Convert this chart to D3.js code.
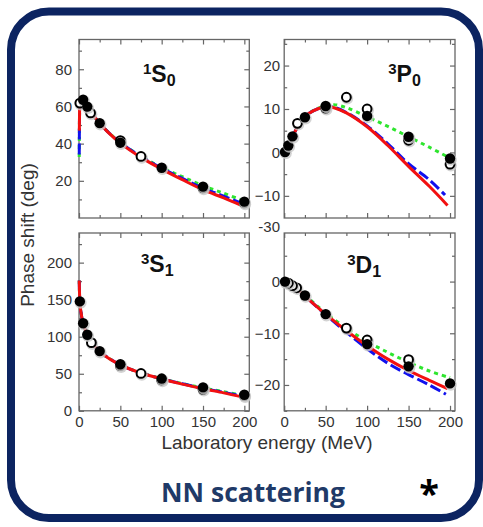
<!DOCTYPE html>
<html>
<head>
<meta charset="utf-8">
<script src="https://cdn.jsdelivr.net/npm/d3@7"></script>
<style>
  body { margin: 0; background: #fff; }
  svg text { font-family: "Liberation Sans", Arial, sans-serif; }
</style>
</head>
<body>
<div id="chart"></div>
<script>
/*
*   NN phase shifts, four partial waves
*   values: [energy MeV, phase shift deg]
*/

var energyTicks = [0, 50, 100, 150, 200];
var energyMinor = [25, 75, 125, 175];

// 1S0
var s0Ticks = [20, 40, 60, 80];
var s0Minor = [10, 30, 50, 70, 90];
var s0Filled = [[5,63.6],[10,59.9],[25,51.0],[50,40.5],[100,27.0],[150,16.9],[200,8.8]];
var s0Open = [[1,61.8],[14,56.5],[50,41.6],[75,33.1],[150,16.2],[200,8.1]];
var s0Green = [[0.25,32.8],[0.7,57],[1,61],[2,63],[4,63.6],[7,61.8],[10,59.8],[15,56.5],[25,51],[35,46.3],[50,40.6],[75,33.2],[100,27.2],[125,22.2],[150,17.4],[175,13.3],[195,10.0]];
var s0Blue = [[0.3,34.2],[0.7,57],[1,61],[2,63],[4,63.6],[7,61.8],[10,59.8],[15,56.5],[25,51],[35,46.3],[50,40.5],[75,33.0],[100,26.8],[125,21.3],[150,16.0],[175,11.8],[195,8.2]];
var s0Red = [[0.4,47],[0.7,57],[1,61],[2,63],[4,63.6],[7,61.8],[10,59.8],[15,56.5],[25,51],[35,46.2],[50,40.3],[75,32.6],[100,26.3],[125,20.6],[150,15.2],[175,10.8],[197,6.7]];

// 3P0
var p0Ticks = [-10, 0, 10, 20];
var p0Minor = [-5, 5, 15, 25];
var p0Filled = [[1,0.1],[5,1.6],[10,3.7],[25,8.1],[50,10.7],[100,8.4],[150,3.6],[200,-1.4]];
var p0Open = [[16,6.7],[50,10.2],[75,12.7],[100,10.0],[150,2.8],[200,-2.7]];
var p0Green = [[1,0.1],[5,1.5],[10,3.6],[15,5.5],[20,7],[25,8.2],[30,9],[40,10.1],[50,10.7],[60,11.0],[75,10.3],[100,8.2],[125,6.0],[150,3.6],[175,1.2],[200,-1.3]];
var p0Blue = [[1,0.1],[5,1.5],[10,3.6],[15,5.5],[20,7],[25,8.2],[30,9],[40,10],[50,10.5],[60,10.4],[75,9.2],[100,6.1],[125,2.0],[150,-2.6],[175,-6.3],[194,-9.8]];
var p0Red = [[1,0.1],[5,1.5],[10,3.6],[15,5.5],[20,7],[25,8.2],[30,9],[40,10],[50,10.5],[60,10.3],[75,9.1],[100,5.9],[125,1.6],[150,-3.2],[175,-7.8],[197,-12.2]];

// 3S1
var s1Ticks = [0, 50, 100, 150, 200];
var s1Minor = [25, 75, 125, 175, 225];
var s1Filled = [[1,147.7],[5,118.2],[10,102.6],[25,80.6],[50,62.8],[100,43.5],[150,31.6],[200,21.7]];
var s1Open = [[15,92.0],[50,61.0],[75,50.4],[100,41.5],[150,29.0],[200,20.5]];
var s1Green = [[0.3,176],[0.6,160],[1,150],[2,136],[5,118],[10,103],[15,93],[25,80],[50,62],[75,51.2],[100,43.4],[125,36.8],[150,30.8],[175,25.8],[195,21.6]];
var s1Blue = [[0.3,176],[0.6,160],[1,150],[2,136],[5,118],[10,103],[15,93],[25,80],[50,62],[75,51.1],[100,43.2],[125,36.4],[150,30.3],[175,25.0],[195,20.2]];
var s1Red = [[0.3,176],[0.6,160],[1,150],[2,136],[5,118],[10,103],[15,93],[25,80],[50,62],[75,51],[100,43],[125,36],[150,29.8],[175,24.2],[197,18.8]];

// 3D1
var d1Ticks = [-20, -10, 0];
var d1Minor = [-25, -15, -5, 5];
var d1Filled = [[1,0],[25,-2.7],[50,-6.3],[100,-12.1],[150,-16.4],[200,-19.7]];
var d1Open = [[5,-0.3],[10,-0.8],[15,-1.2],[75,-9.0],[100,-11.3],[150,-15.1]];
var d1Green = [[1,0],[5,-0.2],[10,-0.7],[15,-1.3],[25,-2.6],[50,-6.1],[75,-9.0],[100,-11.6],[125,-13.7],[150,-15.6],[175,-17.3],[200,-18.6]];
var d1Blue = [[1,0],[5,-0.2],[10,-0.7],[15,-1.3],[25,-2.8],[50,-6.4],[75,-9.8],[100,-13.0],[125,-15.8],[150,-18.0],[175,-20.0],[195,-21.8]];
var d1Red = [[1,0],[5,-0.2],[10,-0.7],[15,-1.3],[25,-2.8],[50,-6.3],[75,-9.5],[100,-12.4],[125,-15.0],[150,-17.2],[175,-19.1],[197,-20.7]];

var strayLabel = "-30";


// constructor function
PhasePanel = function(_parentElement, _cfg) {
    this.parentElement = _parentElement;
    this.cfg = _cfg;

    this.initVis();
}

PhasePanel.prototype.initVis = function() {
    var vis = this;
    var c = vis.cfg;

    vis.g = vis.parentElement.append('g')
        .attr('transform', 'translate(' + c.left + ' ' + c.top + ')');

    vis.x = d3.scaleLinear().domain([0, 206]).range([0, c.width]);
    vis.y = d3.scaleLinear().domain(c.yDomain).range([c.height, 0]);

    // ticks point inward on all four sides
    var axes = [
        d3.axisBottom(vis.x).tickValues(energyTicks).tickSize(-5),
        d3.axisBottom(vis.x).tickValues(energyMinor).tickSize(-3),
        d3.axisTop(vis.x).tickValues(energyTicks).tickSize(-5),
        d3.axisTop(vis.x).tickValues(energyMinor).tickSize(-3),
        d3.axisLeft(vis.y).tickValues(c.yTicks).tickSize(-5),
        d3.axisLeft(vis.y).tickValues(c.yMinor).tickSize(-3),
        d3.axisRight(vis.y).tickValues(c.yTicks).tickSize(-5),
        d3.axisRight(vis.y).tickValues(c.yMinor).tickSize(-3)
    ];
    var shifts = ['0 ' + c.height, '0 ' + c.height, '0 0', '0 0', '0 0', '0 0', c.width + ' 0', c.width + ' 0'];

    axes.forEach(function(ax, i) {
        var a = vis.g.append('g')
            .attr('transform', 'translate(' + shifts[i] + ')')
            .call(ax);
        a.select('.domain').remove();
        a.selectAll('line').attr('stroke', '#666').attr('stroke-width', 1.2);
        a.selectAll('text').remove();
    });

    // tick labels
    vis.g.append('g')
        .call(d3.axisLeft(vis.y).tickValues(c.yTicks).tickSize(0).tickPadding(c.labelPad))
        .call(function(a) { a.select('.domain').remove(); })
        .selectAll('text')
            .attr('font-size', '15px')
            .attr('fill', '#333');

    if (c.showX) {
        vis.g.append('g')
            .attr('transform', 'translate(0 ' + c.height + ')')
            .call(d3.axisBottom(vis.x).tickValues(energyTicks).tickSize(0).tickPadding(6))
            .call(function(a) { a.select('.domain').remove(); })
            .selectAll('text')
                .attr('font-size', '15px')
                .attr('fill', '#333');
    }

    vis.g.append('rect')
        .attr('width', c.width).attr('height', c.height)
        .attr('fill', 'none')
        .attr('stroke', '#666').attr('stroke-width', 1.3);

    // title with super/subscript
    var t = vis.g.append('text')
        .attr('x', c.titleX).attr('y', c.titleY)
        .attr('font-weight', 'bold')
        .attr('fill', '#111');
    t.append('tspan').attr('font-size', '15px').attr('dy', -8).text(c.title[0]);
    t.append('tspan').attr('font-size', '23px').attr('dy', 8).text(c.title[1]);
    t.append('tspan').attr('font-size', '16px').attr('dy', 4).text(c.title[2]);

    vis.updateVis();
}

PhasePanel.prototype.updateVis = function() {
    var vis = this;
    var c = vis.cfg;

    var line = d3.line()
        .x(function(d) { return vis.x(d[0]); })
        .y(function(d) { return vis.y(d[1]); })
        .curve(d3.curveCatmullRom.alpha(0.5));

    var styles = [
        {data: c.green, colour: '#2ee52e', dash: '4,4'},
        {data: c.blue, colour: '#1010ee', dash: '11,4'},
        {data: c.red, colour: '#f21010', dash: null}
    ];
    styles.forEach(function(s) {
        vis.g.append('path')
            .datum(s.data)
            .attr('d', line)
            .attr('fill', 'none')
            .attr('stroke', s.colour)
            .attr('stroke-width', 3)
            .attr('stroke-dasharray', s.dash);
    });

    // markers: open first (right to left), filled on top
    var openPts = c.open.slice().reverse();
    var layers = [
        {data: openPts, fill: '#fff', r: 4.4, sw: 2},
        {data: c.filled, fill: '#000', r: 5.2, sw: 0}
    ];
    layers.forEach(function(l) {
        var m = vis.g.append('g').selectAll('g')
            .data(l.data).enter().append('g')
            .attr('transform', function(d) {
                return 'translate(' + vis.x(d[0]) + ' ' + vis.y(d[1]) + ')';
            });
        m.append('circle')
            .attr('cx', 0.8).attr('cy', 1.3).attr('r', 6)
            .attr('fill', '#c8c8c8').attr('opacity', 0.8);
        m.append('circle')
            .attr('r', l.r)
            .attr('fill', l.fill)
            .attr('stroke', '#000')
            .attr('stroke-width', l.sw);
    });
}


var svg = d3.select('#chart').append('svg')
    .attr('width', 483).attr('height', 527);

svg.append('rect')
    .attr('x', 11).attr('y', 11.5)
    .attr('width', 468).attr('height', 506.5)
    .attr('rx', 38).attr('ry', 38)
    .attr('fill', '#fff')
    .attr('stroke', '#0c2461').attr('stroke-width', 8);

var panels = [
    {left: 79, top: 39.5, width: 170.3, height: 178.5, yDomain: [0, 96], yTicks: s0Ticks, yMinor: s0Minor,
     labelPad: 7, showX: false, title: ['1', 'S', '0'], titleX: 64, titleY: 42,
     filled: s0Filled, open: s0Open, red: s0Red, blue: s0Blue, green: s0Green},
    {left: 284.2, top: 39.5, width: 170.8, height: 178.5, yDomain: [-15.1, 26], yTicks: p0Ticks, yMinor: p0Minor,
     labelPad: 4, showX: false, title: ['3', 'P', '0'], titleX: 104, titleY: 42,
     filled: p0Filled, open: p0Open, red: p0Red, blue: p0Blue, green: p0Green},
    {left: 79, top: 233, width: 170.3, height: 177.8, yDomain: [0, 240], yTicks: s1Ticks, yMinor: s1Minor,
     labelPad: 7, showX: true, title: ['3', 'S', '1'], titleX: 62, titleY: 39,
     filled: s1Filled, open: s1Open, red: s1Red, blue: s1Blue, green: s1Green},
    {left: 284.2, top: 233, width: 170.8, height: 177.8, yDomain: [-25, 9.4], yTicks: d1Ticks, yMinor: d1Minor,
     labelPad: 4, showX: true, title: ['3', 'D', '1'], titleX: 63, titleY: 40,
     filled: d1Filled, open: d1Open, red: d1Red, blue: d1Blue, green: d1Green}
];

panels.forEach(function(p) { new PhasePanel(svg, p); });

// stray label between the right-hand panels
svg.append('text')
    .attr('x', 280).attr('y', 232)
    .attr('text-anchor', 'end')
    .attr('font-size', '15px')
    .attr('fill', '#333')
    .text(strayLabel);

// axis names
svg.append('text')
    .attr('transform', 'translate(34 235) rotate(-90)')
    .attr('text-anchor', 'middle')
    .attr('font-size', '19px')
    .attr('fill', '#333')
    .text('Phase shift (deg)');

svg.append('text')
    .attr('x', 267).attr('y', 449)
    .attr('text-anchor', 'middle')
    .attr('font-size', '19px')
    .attr('fill', '#333')
    .text('Laboratory energy (MeV)');

svg.append('text')
    .attr('x', 253).attr('y', 502)
    .attr('text-anchor', 'middle')
    .style('font-family', '"Open Sans", sans-serif')
    .attr('font-weight', 'bold')
    .attr('font-size', '26.5px')
    .attr('fill', '#1f3a68')
    .text('NN scattering');

svg.append('text')
    .attr('x', 429).attr('y', 506)
    .attr('text-anchor', 'middle')
    .style('font-family', '"Open Sans", sans-serif')
    .attr('font-weight', 'bold')
    .attr('font-size', '36px')
    .attr('fill', '#000')
    .text('*');
</script>
</body>
</html>
